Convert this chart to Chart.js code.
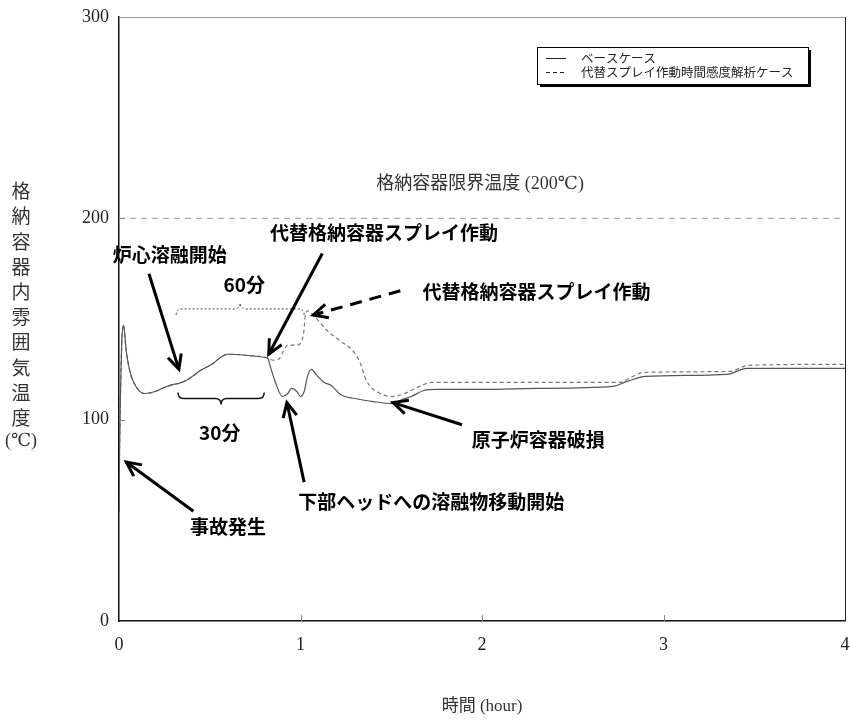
<!DOCTYPE html>
<html>
<head>
<meta charset="utf-8">
<script src="https://cdn.jsdelivr.net/npm/chart.js@4"></script>
<style>
  body { margin: 0; background: #fff; }
</style>
</head>
<body>
<canvas id="tempChart" width="851" height="724"></canvas>
<script>
// hours since the accident / atmosphere temperature (degC)
const baseHours = [0, 0.003, 0.008, 0.015, 0.025, 0.04, 0.06, 0.09, 0.14, 0.2, 0.25, 0.3, 0.33, 0.38, 0.45, 0.52, 0.56, 0.6, 0.7, 0.8, 0.82, 0.835, 0.86, 0.9, 0.93, 0.95, 0.98, 1.0, 1.02, 1.04, 1.06, 1.09, 1.13, 1.17, 1.22, 1.3, 1.4, 1.51, 1.56, 1.61, 1.68, 1.75, 2.0, 2.3, 2.72, 2.8, 2.9, 3.35, 3.46, 3.6, 4.0];
const baseTemp  = [54, 84, 112, 138, 147, 134, 124, 117, 113, 114, 116, 117.5, 118, 120, 124.5, 128, 131, 132.5, 132, 131, 130.5, 126, 119, 111.5, 113, 115.5, 114, 111.5, 114, 122, 125, 122, 118.5, 117, 112.5, 110.5, 109, 108, 110, 111.5, 114.5, 115, 115, 115.5, 116.5, 119, 121.5, 122.5, 125.5, 125.5, 125.5];

const sensHours = [0, 0.003, 0.008, 0.015, 0.025, 0.04, 0.06, 0.09, 0.14, 0.2, 0.25, 0.3, 0.33, 0.38, 0.45, 0.52, 0.56, 0.6, 0.7, 0.8, 0.82, 0.85, 0.88, 0.9, 0.93, 0.98, 1.0, 1.02, 1.025, 1.04, 1.07, 1.15, 1.22, 1.29, 1.33, 1.36, 1.39, 1.43, 1.5, 1.56, 1.62, 1.68, 1.72, 2.0, 2.76, 2.82, 2.89, 3.37, 3.43, 3.47, 4.0];
const sensTemp  = [54, 84, 112, 138, 147, 134, 124, 117, 113, 114, 116, 117.5, 118, 120, 124.5, 128, 131, 132.5, 132, 131, 130.5, 129.5, 130, 133, 137, 137, 138, 145, 151, 154, 152, 144, 139, 134, 128, 120, 116, 113.5, 111.5, 112.5, 115, 117.5, 118.5, 118.5, 118.5, 121, 123.5, 124, 126, 127, 127.5];

const limitHours = [0, 4];
const limitTemp = [200, 200];

const seriesLabels = ['ベースケース', '代替スプレイ作動時間感度解析ケース'];
const xTicks = [0, 1, 2, 3, 4];
const yTicks = [0, 100, 200, 300];

const toPoints = (xs, ys) => xs.map((x, i) => ({ x: x, y: ys[i] }));

const jpBold = '"Noto Sans CJK JP", sans-serif';
const serif = '"Liberation Serif", "DejaVu Serif", "Noto Sans CJK JP", serif';

// annotations placed in data units (hours, degC)
const notes = [
  { text: '炉心溶融開始', x: 0.28, y: 182 },
  { text: '代替格納容器スプレイ作動', x: 1.46, y: 193 },
  { text: '60分', x: 0.69, y: 167 },
  { text: '代替格納容器スプレイ作動', x: 2.3, y: 163.5 },
  { text: '30分', x: 0.555, y: 93.5 },
  { text: '下部ヘッドへの溶融物移動開始', x: 1.72, y: 59 },
  { text: '原子炉容器破損', x: 2.31, y: 90 },
  { text: '事故発生', x: 0.6, y: 47 }
];
const arrows = [
  { from: [0.165, 172.5], to: [0.33, 125], dash: false },
  { from: [1.12, 182.5], to: [0.825, 132.5], dash: false },
  { from: [1.55, 164], to: [1.07, 152], dash: true },
  { from: [1.02, 69], to: [0.925, 108.5], dash: false },
  { from: [1.89, 97.5], to: [1.51, 108.5], dash: false },
  { from: [0.41, 54.5], to: [0.04, 79], dash: false }
];
const braces = [
  { x0: 0.315, x1: 1.02, y: 155, up: true, dash: true },
  { x0: 0.325, x1: 0.8, y: 110.5, up: false, dash: false }
];

const decorations = {
  id: 'decorations',
  afterDatasetsDraw(chart) {
    const ctx = chart.ctx;
    const xs = chart.scales.x, ys = chart.scales.y;
    const area = chart.chartArea;
    const px = v => xs.getPixelForValue(v);
    const py = v => ys.getPixelForValue(v);
    ctx.save();

    // frame: top gray, right dark
    ctx.lineWidth = 1;
    ctx.strokeStyle = '#999';
    ctx.beginPath();
    ctx.moveTo(area.left, area.top + 0.5);
    ctx.lineTo(area.right, area.top + 0.5);
    ctx.stroke();
    ctx.strokeStyle = '#222';
    ctx.beginPath();
    ctx.moveTo(area.right + 0.5, area.top);
    ctx.lineTo(area.right + 0.5, area.bottom);
    ctx.stroke();

    // inward tick marks
    ctx.strokeStyle = '#888';
    xTicks.slice(1, -1).forEach(t => {
      ctx.beginPath();
      ctx.moveTo(Math.round(px(t)) + 0.5, area.bottom);
      ctx.lineTo(Math.round(px(t)) + 0.5, area.bottom - 6);
      ctx.stroke();
    });
    yTicks.slice(1, -1).forEach(t => {
      ctx.beginPath();
      ctx.moveTo(area.left, Math.round(py(t)) + 0.5);
      ctx.lineTo(area.left + 6, Math.round(py(t)) + 0.5);
      ctx.stroke();
    });

    // limit label
    ctx.fillStyle = '#333';
    ctx.font = '18px ' + serif;
    ctx.textAlign = 'center';
    ctx.textBaseline = 'middle';
    ctx.fillText('格納容器限界温度 (200℃)', px(1.99), py(217));

    // braces
    braces.forEach(b => {
      const a = px(b.x0), c = px(b.x1), m = (a + c) / 2;
      const y = py(b.y), s = b.up ? -1 : 1;
      ctx.setLineDash(b.dash ? [2, 2] : []);
      ctx.strokeStyle = b.dash ? '#444' : '#111';
      ctx.lineWidth = b.dash ? 1 : 1.5;
      ctx.beginPath();
      ctx.moveTo(a, y - 6 * s);
      ctx.quadraticCurveTo(a, y, a + 6, y);
      ctx.lineTo(m - 6, y);
      ctx.quadraticCurveTo(m, y, m, y + 6 * s);
      ctx.quadraticCurveTo(m, y, m + 6, y);
      ctx.lineTo(c - 6, y);
      ctx.quadraticCurveTo(c, y, c, y - 6 * s);
      ctx.stroke();
    });

    // arrows
    ctx.strokeStyle = '#000';
    ctx.lineWidth = 3;
    arrows.forEach(ar => {
      const x0 = px(ar.from[0]), y0 = py(ar.from[1]);
      const x1 = px(ar.to[0]), y1 = py(ar.to[1]);
      const ang = Math.atan2(y1 - y0, x1 - x0);
      ctx.setLineDash(ar.dash ? [12, 8] : []);
      ctx.beginPath();
      ctx.moveTo(x0, y0);
      ctx.lineTo(x1, y1);
      ctx.stroke();
      ctx.setLineDash([]);
      ctx.beginPath();
      ctx.moveTo(x1 - 16 * Math.cos(ang - 0.45), y1 - 16 * Math.sin(ang - 0.45));
      ctx.lineTo(x1, y1);
      ctx.lineTo(x1 - 16 * Math.cos(ang + 0.45), y1 - 16 * Math.sin(ang + 0.45));
      ctx.stroke();
    });

    // annotation texts
    ctx.fillStyle = '#000';
    ctx.font = 'bold 19px ' + jpBold;
    notes.forEach(n => ctx.fillText(n.text, px(n.x), py(n.y)));

    // legend box
    const lx = 537, ly = 47, lw = 271, lh = 37;
    ctx.fillStyle = '#000';
    ctx.fillRect(lx + 3, ly + 3, lw, lh);
    ctx.fillStyle = '#fff';
    ctx.fillRect(lx, ly, lw, lh);
    ctx.lineWidth = 1;
    ctx.strokeStyle = '#000';
    ctx.strokeRect(lx + 0.5, ly + 0.5, lw, lh);
    ctx.font = '12.5px "Noto Sans CJK JP", sans-serif';
    ctx.textAlign = 'left';
    chart.data.datasets.slice(0, 2).forEach((ds, i) => {
      const yy = ly + 11 + i * 14;
      ctx.strokeStyle = '#222';
      ctx.setLineDash(ds.borderDash || []);
      ctx.beginPath();
      ctx.moveTo(lx + 9, yy + 0.5);
      ctx.lineTo(lx + 29, yy + 0.5);
      ctx.stroke();
      ctx.setLineDash([]);
      ctx.fillStyle = '#222';
      ctx.fillText(ds.label, lx + 44, yy);
    });

    // stacked vertical y title
    ctx.fillStyle = '#333';
    ctx.font = '19px "Noto Sans CJK JP", sans-serif';
    ctx.textAlign = 'center';
    const chars = '格納容器内雰囲気温度'.split('');
    chars.forEach((ch, i) => ctx.fillText(ch, 21, 191 + i * 25.2));
    ctx.font = '18px ' + serif;
    ctx.fillText('(℃)', 21, 441);
    ctx.restore();
  }
};

new Chart(document.getElementById('tempChart'), {
  type: 'line',
  data: {
    datasets: [
      {
        label: seriesLabels[0],
        data: toPoints(baseHours, baseTemp),
        borderColor: '#555',
        borderWidth: 1.2,
        pointRadius: 0,
        cubicInterpolationMode: 'monotone'
      },
      {
        label: seriesLabels[1],
        data: toPoints(sensHours, sensTemp),
        borderColor: '#777',
        borderWidth: 1.2,
        borderDash: [4, 3],
        pointRadius: 0,
        cubicInterpolationMode: 'monotone'
      },
      {
        label: 'limit',
        data: toPoints(limitHours, limitTemp),
        borderColor: '#999',
        borderWidth: 1,
        borderDash: [6, 5],
        pointRadius: 0
      }
    ]
  },
  options: {
    responsive: false,
    animation: false,
    layout: { padding: { left: 0, right: 6, top: 17, bottom: 0 } },
    plugins: { legend: { display: false }, tooltip: { enabled: false } },
    scales: {
      x: {
        type: 'linear',
        min: 0,
        max: 4,
        afterBuildTicks: s => { s.ticks = xTicks.map(v => ({ value: v })); },
        afterFit: s => { s.height = 103; s.paddingLeft = 0; s.paddingRight = 0; },
        grid: { display: false, drawTicks: false },
        border: { display: true, color: '#111', width: 1.5 },
        ticks: { padding: 13, color: '#222', font: { family: serif, size: 18 } },
        title: { display: true, text: '時間 (hour)', color: '#333', padding: { bottom: 7 }, font: { family: serif, size: 17 } }
      },
      y: {
        min: 0,
        max: 300,
        afterBuildTicks: s => { s.ticks = yTicks.map(v => ({ value: v })); },
        afterFit: s => { s.width = 119; s.paddingTop = 0; s.paddingBottom = 0; },
        grid: { display: false, drawTicks: false },
        border: { display: true, color: '#111', width: 1.5 },
        ticks: { padding: 10, color: '#222', font: { family: serif, size: 18 } }
      }
    }
  },
  plugins: [decorations]
});
</script>
</body>
</html>
